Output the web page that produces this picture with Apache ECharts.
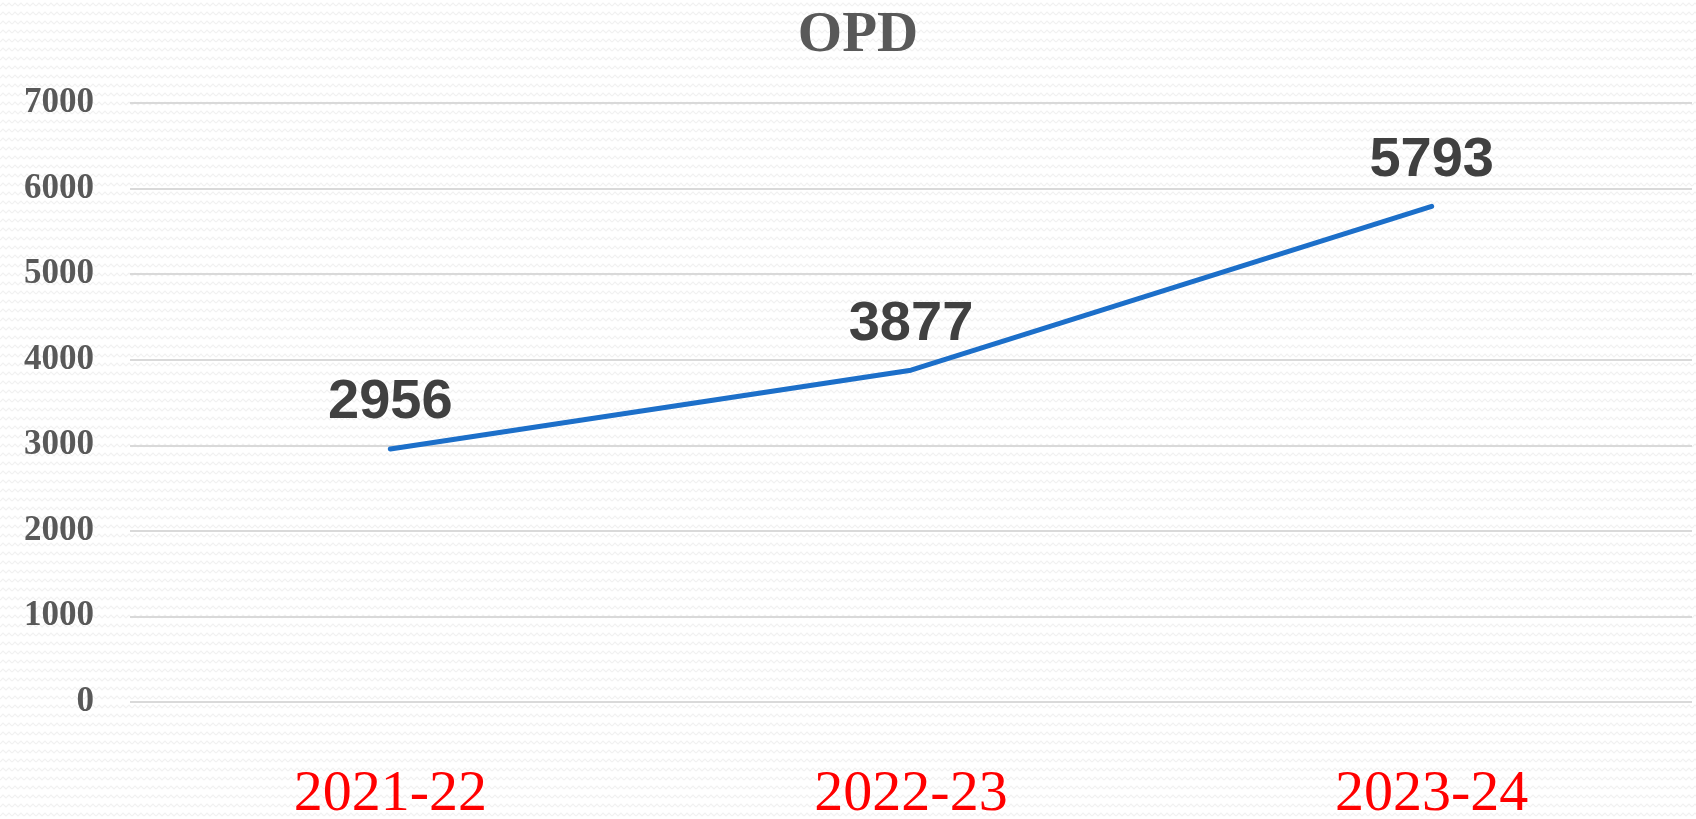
<!DOCTYPE html>
<html>
<head>
<meta charset="utf-8">
<script src="https://cdn.jsdelivr.net/npm/echarts@6/dist/echarts.min.js"></script>
<style>html,body{margin:0;padding:0;background:#fff;}#c{width:1696px;height:819px;}</style>
</head>
<body>
<div id="c"></div>
<script>
const titleText = 'OPD';
const categories = ['2021-22', '2022-23', '2023-24'];
const opdValues = [2956, 3877, 5793];
const yTicks = { min: 0, max: 7000, interval: 1000 };

// subtle zigzag background pattern
const pat = document.createElement('canvas');
pat.width = 12; pat.height = 9;
const pc = pat.getContext('2d');
pc.fillStyle = '#ffffff'; pc.fillRect(0, 0, 12, 9);
pc.strokeStyle = '#f1f1f1'; pc.lineWidth = 1.2;
pc.beginPath(); pc.moveTo(0, 6); pc.lineTo(3, 3); pc.lineTo(6, 6); pc.lineTo(9, 3); pc.lineTo(12, 6); pc.stroke();

const chart = echarts.init(document.getElementById('c'), null, { renderer: 'canvas' });
chart.setOption({
  backgroundColor: { image: pat, repeat: 'repeat' },
  animation: false,
  title: {
    text: titleText,
    left: 853,
    textAlign: 'center',
    top: 3,
    textStyle: { fontFamily: 'Liberation Serif', fontWeight: 'bold', fontSize: 57, color: '#595959' }
  },
  grid: { left: 130, right: 4, top: 103, bottom: 117, containLabel: false, outerBoundsMode: 'none' },
  xAxis: {
    type: 'category',
    data: categories,
    boundaryGap: true,
    axisLine: { show: false },
    axisTick: { show: false },
    axisLabel: { margin: 64, fontFamily: 'Liberation Serif', fontSize: 58, color: '#FF0000' }
  },
  yAxis: {
    type: 'value',
    min: yTicks.min, max: yTicks.max, interval: yTicks.interval,
    axisLine: { show: false },
    axisTick: { show: false },
    axisLabel: {
      margin: 36, fontFamily: 'Liberation Serif', fontWeight: 'bold', fontSize: 35, color: '#595959',
      formatter: function (v) { return String(v); }
    },
    splitLine: { lineStyle: { color: '#d9d9d9', width: 2 } }
  },
  series: [{
    type: 'line',
    data: opdValues,
    showSymbol: true,
    symbol: 'circle',
    symbolSize: 2,
    itemStyle: { color: '#1C6FC9' },
    lineStyle: { color: '#1C6FC9', width: 5, cap: 'round' },
    label: {
      show: true,
      position: 'top',
      distance: 17,
      fontFamily: 'Liberation Sans',
      fontWeight: 'bold',
      fontSize: 56,
      color: '#404040'
    }
  }]
});
</script>
</body>
</html>
